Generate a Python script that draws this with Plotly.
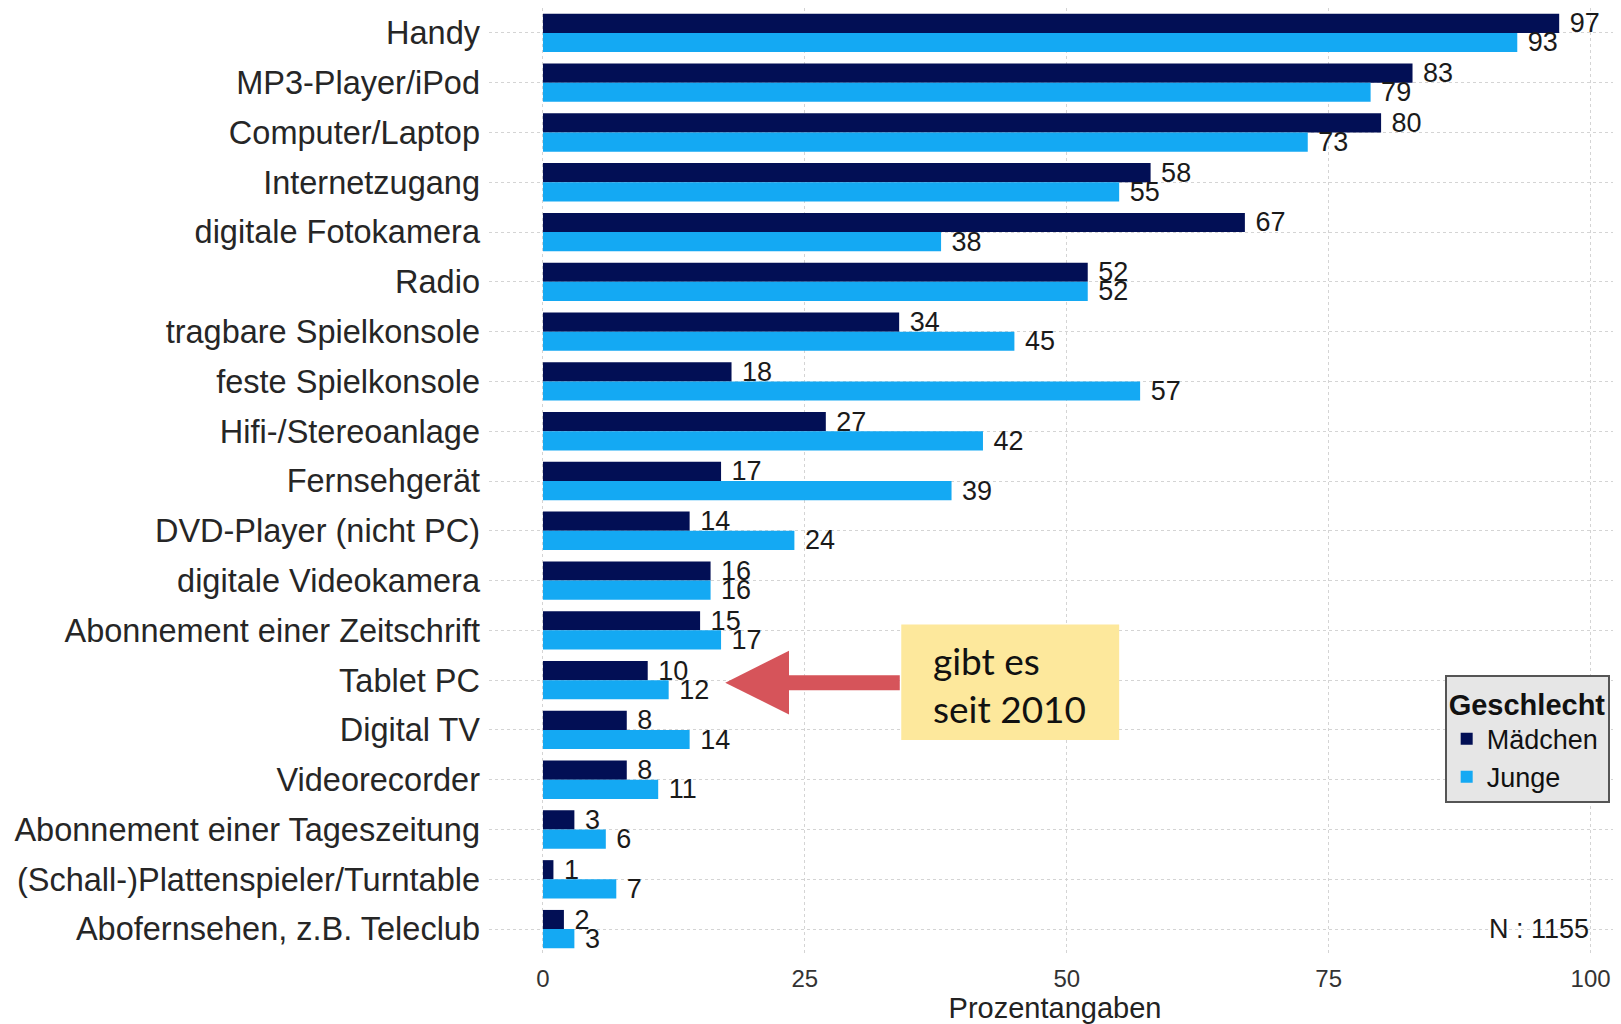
"""Geräteausstattung nach Geschlecht – horizontal grouped bar chart."""

import plotly.graph_objects as go

CATEGORIES = [
    "Handy",
    "MP3-Player/iPod",
    "Computer/Laptop",
    "Internetzugang",
    "digitale Fotokamera",
    "Radio",
    "tragbare Spielkonsole",
    "feste Spielkonsole",
    "Hifi-/Stereoanlage",
    "Fernsehgerät",
    "DVD-Player (nicht PC)",
    "digitale Videokamera",
    "Abonnement einer Zeitschrift",
    "Tablet PC",
    "Digital TV",
    "Videorecorder",
    "Abonnement einer Tageszeitung",
    "(Schall-)Plattenspieler/Turntable",
    "Abofernsehen, z.B. Teleclub",
]
MAEDCHEN = [97, 83, 80, 58, 67, 52, 34, 18, 27, 17, 14, 16, 15, 10, 8, 8, 3, 1, 2]
JUNGE = [93, 79, 73, 55, 38, 52, 45, 57, 42, 39, 24, 16, 17, 12, 14, 11, 6, 7, 3]
X_TICKS = [0, 25, 50, 75, 100]
SAMPLE_NOTE = "N : 1155"
CALLOUT_TEXT = "gibt es<br>seit 2010"
CALLOUT_CATEGORY = "Tablet PC"

DARK = "#020f55"
LIGHT = "#14a9f3"
FONT = "Liberation Sans, Arial, sans-serif"

fig = go.Figure()

for name, values, color in [("Mädchen", MAEDCHEN, DARK), ("Junge", JUNGE, LIGHT)]:
    fig.add_trace(
        go.Bar(
            y=CATEGORIES,
            x=values,
            orientation="h",
            name=name,
            marker=dict(color=color, line=dict(width=0)),
            text=values,
            texttemplate=" %{x}",
            textposition="outside",
            textfont=dict(family=FONT, size=27, color="#1a1a1a"),
            constraintext="none",
            cliponaxis=False,
            hoverinfo="x+y+name",
        )
    )

callout_row = CATEGORIES.index(CALLOUT_CATEGORY)

# yellow note box with red arrow pointing at the Tablet PC bars
fig.add_shape(
    type="rect",
    xref="x",
    yref="y",
    x0=34.2,
    x1=55.0,
    y0=callout_row - 1.12,
    y1=callout_row + 1.2,
    fillcolor="#fde89c",
    line=dict(width=0),
    layer="above",
)
fig.add_annotation(
    x=37.0,
    y=callout_row + 0.08,
    xref="x",
    yref="y",
    text=CALLOUT_TEXT,
    showarrow=False,
    xanchor="left",
    align="left",
    font=dict(family="Lato, Open Sans, sans-serif", size=37, color="#111111"),
)
fig.add_annotation(
    x=17.4,
    y=callout_row + 0.05,
    ax=34.2,
    ay=callout_row + 0.05,
    xref="x",
    yref="y",
    axref="x",
    ayref="y",
    text="",
    showarrow=True,
    arrowhead=2,
    arrowwidth=15,
    arrowsize=0.85,
    arrowcolor="#d6545a",
    standoff=0,
)

fig.add_annotation(
    x=100,
    y=len(CATEGORIES) - 1,
    xref="x",
    yref="y",
    text=SAMPLE_NOTE,
    showarrow=False,
    xanchor="right",
    font=dict(family=FONT, size=27, color="#1a1a1a"),
)

# page body keeps an 8px margin, so the figure is 8px smaller than the window
fig.update_layout(
    barmode="group",
    bargap=0.23,
    bargroupgap=0,
    width=1613,
    height=1016,
    paper_bgcolor="white",
    plot_bgcolor="white",
    font=dict(family=FONT, color="#222222"),
    margin=dict(l=481, r=0, t=0, b=70),
    xaxis=dict(
        range=[-5.15, 102.9],
        tickvals=X_TICKS,
        tickfont=dict(size=24, color="#333333"),
        showgrid=True,
        gridcolor="#d4d4d4",
        griddash="dot",
        gridwidth=1,
        zeroline=False,
        showline=False,
        ticks="",
        ticklabelstandoff=8,
        title=dict(text="Prozentangaben", font=dict(size=29, color="#222222"), standoff=0),
    ),
    yaxis=dict(
        autorange="reversed",
        tickfont=dict(size=32.5, color="#262626"),
        showgrid=True,
        gridcolor="#d4d4d4",
        griddash="dot",
        gridwidth=1,
        showline=False,
        ticks="",
        ticklabelstandoff=8,
    ),
    legend=dict(
        title=dict(text="<b>Geschlecht</b>", font=dict(size=29, color="#111111")),
        font=dict(size=27, color="#111111"),
        bgcolor="#e6e6e6",
        bordercolor="#555555",
        borderwidth=2,
        x=0.99,
        xanchor="right",
        y=0.295,
        yanchor="top",
        tracegroupgap=0,
        itemclick=False,
        itemdoubleclick=False,
    ),
    showlegend=True,
)

fig.write_html("out.html")
